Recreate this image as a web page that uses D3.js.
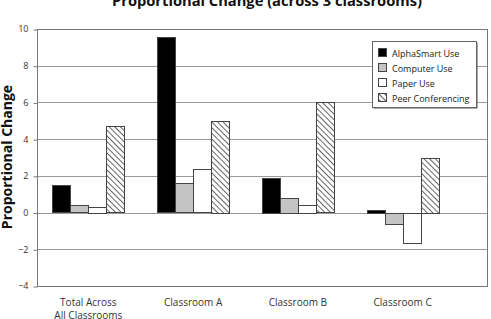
<!DOCTYPE html>
<html>
<head>
<meta charset="utf-8">
<script src="https://cdn.jsdelivr.net/npm/d3@7"></script>
<style>
  body { margin: 0; background: #fff; }
  text { font-family: "Open Sans", "Noto Sans", sans-serif; }
</style>
</head>
<body>
<div id="chart"></div>
<script>
// chart data
const categories = ["Total Across|All Classrooms", "Classroom A", "Classroom B", "Classroom C"];
const seriesNames = ["AlphaSmart Use", "Computer Use", "Paper Use", "Peer Conferencing"];
const alphaSmart = [1.48, 9.55, 1.9, 0.16];
const computer = [0.4, 1.6, 0.82, -0.6];
const paper = [0.3, 2.35, 0.42, -1.65];
const peer = [4.7, 5.0, 6.0, 3.0];
const yTicks = [-4, -2, 0, 2, 4, 6, 8, 10];

const W = 491, H = 319;
const plot = { left: 37, right: 487, top: 29, bottom: 286 };

const fills = ["#000", "#c4c4c4", "#fff", "url(#hatch)"];
const values = [alphaSmart, computer, paper, peer];

const svg = d3.select("#chart").append("svg")
  .attr("width", W).attr("height", H);

// diagonal hatch for peer conferencing ("\" direction)
const pat = svg.append("defs").append("pattern")
  .attr("id", "hatch")
  .attr("patternUnits", "userSpaceOnUse")
  .attr("width", 4).attr("height", 4)
  .attr("patternTransform", "rotate(45)");
pat.append("rect").attr("width", 4).attr("height", 4).attr("fill", "#fff");
pat.append("line").attr("x1", 0).attr("y1", 0).attr("x2", 4).attr("y2", 0)
  .attr("stroke", "#333").attr("stroke-width", 1.5);

const y = d3.scaleLinear().domain([-4, 10]).range([plot.bottom, plot.top]);
const x0 = d3.scaleBand().domain(categories).range([36, 455]).paddingInner(0).paddingOuter(0);
const x1 = d3.scaleBand().domain(seriesNames).range([0, x0.bandwidth()]).paddingInner(0).paddingOuter(0.9);

// gridlines
svg.append("g")
  .selectAll("line")
  .data(yTicks)
  .join("line")
  .attr("x1", plot.left).attr("x2", plot.right)
  .attr("y1", d => Math.round(y(d)) + 0.5).attr("y2", d => Math.round(y(d)) + 0.5)
  .attr("stroke", "#9a9a9a").attr("stroke-width", 1);

// y axis
const gy = svg.append("g")
  .attr("transform", `translate(${plot.left + 0.5},0)`)
  .call(d3.axisLeft(y).tickValues(yTicks).tickSize(4).tickPadding(5).tickFormat(d3.format("d")));
gy.select(".domain").remove();
gy.selectAll(".tick line").attr("stroke", "#777").attr("transform", "translate(0,0.5)");
gy.selectAll(".tick text").attr("fill", "#333").style("font-size", "9px");

// bars
categories.forEach((c, ci) => {
  seriesNames.forEach((s, si) => {
    const v = values[si][ci];
    svg.append("rect")
      .attr("x", Math.round(x0(c) + x1(s)) + 0.5)
      .attr("y", Math.round(y(Math.max(0, v))) + 0.5)
      .attr("width", Math.round(x1.bandwidth()))
      .attr("height", Math.round(Math.abs(y(v) - y(0))))
      .attr("fill", fills[si])
      .attr("stroke", "#444")
      .attr("stroke-width", 1);
  });
});

// plot border
svg.append("rect")
  .attr("x", plot.left + 0.5).attr("y", plot.top + 0.5)
  .attr("width", plot.right - plot.left).attr("height", plot.bottom - plot.top)
  .attr("fill", "none").attr("stroke", "#777").attr("stroke-width", 1);

// category labels
categories.forEach(c => {
  const lines = c.split("|");
  const cx = x0(c) + x0.bandwidth() / 2;
  const t = svg.append("text")
    .attr("x", cx)
    .attr("y", 306)
    .attr("text-anchor", "middle")
    .attr("fill", "#333")
    .style("font-size", "10px");
  lines.forEach((l, i) => {
    t.append("tspan").attr("x", cx).attr("dy", i ? 13 : 0).text(l);
  });
});

// title
svg.append("text")
  .attr("x", 267).attr("y", 6)
  .attr("text-anchor", "middle")
  .style("font-size", "14.7px").style("font-weight", "bold")
  .attr("fill", "#111")
  .text("Proportional Change (across 3 classrooms)");

// y title
svg.append("text")
  .attr("transform", "translate(12,157) rotate(-90)")
  .attr("text-anchor", "middle")
  .style("font-size", "14px").style("font-weight", "bold")
  .attr("fill", "#111")
  .text("Proportional Change");

// legend
const lg = svg.append("g").attr("transform", "translate(372,41)");
lg.append("rect").attr("x", 1.5).attr("y", 1.5).attr("width", 104).attr("height", 66)
  .attr("fill", "#555");
lg.append("rect").attr("x", 0.5).attr("y", 0.5).attr("width", 104).attr("height", 66)
  .attr("fill", "#fff").attr("stroke", "#666");
seriesNames.forEach((s, i) => {
  const row = lg.append("g").attr("transform", `translate(6,${12 + i * 15})`);
  row.append("rect").attr("x", 0.5).attr("y", -4.5).attr("width", 8).attr("height", 8)
    .attr("fill", fills[i]).attr("stroke", "#444");
  row.append("text").attr("x", 14).attr("y", 3.5)
    .attr("fill", "#222").style("font-size", "9px").text(s);
});
</script>
</body>
</html>
